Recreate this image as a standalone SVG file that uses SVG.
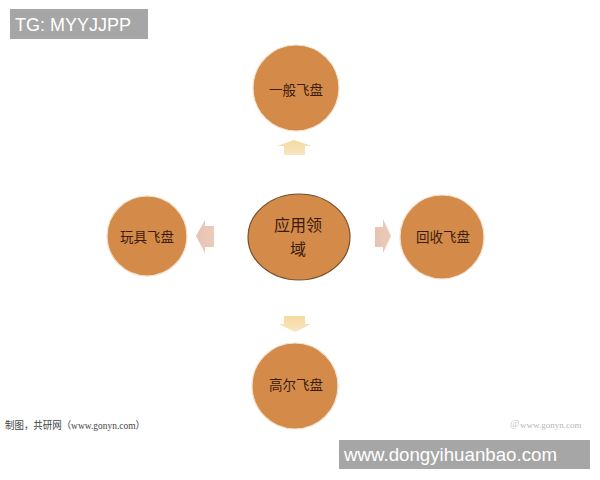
<svg xmlns="http://www.w3.org/2000/svg" width="600" height="480" viewBox="0 0 600 480">
<style>
.node{fill:#d48b4a;stroke:#f3e2d0;stroke-width:1.2}
.center{fill:#d48b4a;stroke:#7a4f2c;stroke-width:1.2}
.lbl{font-family:"Noto Sans CJK SC","Noto Sans",sans-serif;font-size:13.5px;fill:#3b1b0e;text-anchor:middle;dominant-baseline:central}
.clbl{font-family:"Noto Sans CJK SC","Noto Sans",sans-serif;font-size:16px;fill:#3b1b0e;text-anchor:middle;dominant-baseline:central}
.tag{fill:#a6a6a6}
.tagtxt{font-family:"Liberation Sans",Arial,sans-serif;fill:#ffffff}
</style>
<defs>
<linearGradient id="gV" x1="0" y1="0" x2="0" y2="1">
<stop offset="0" stop-color="#f5d99e"/><stop offset="1" stop-color="#f8e6c2"/>
</linearGradient>
<linearGradient id="gH" x1="0" y1="0" x2="1" y2="0">
<stop offset="0" stop-color="#e8c2b0"/><stop offset="1" stop-color="#eccbbb"/>
</linearGradient>
</defs>
<rect width="600" height="480" fill="#ffffff"/>
<g id="tg">
<rect class="tag" x="10" y="9" width="138" height="30"/>
<text class="tagtxt" x="15" y="31" font-size="18">TG: MYYJJPP</text>
</g>
<g id="connectors">
<polygon points="294,140 312,146 305,146 305,155 284,155 284,146 277,146" fill="url(#gV)"/>
<polygon points="284,316 305,316 305,324 311,324 295,332 279,324 284,324" fill="url(#gV)"/>
<polygon points="196,236 205,220 205,226 214,226 214,247 205,247 205,253" fill="url(#gH)"/>
<polygon points="391,236 383,219 383,227 375,227 375,247 383,247 383,253" fill="url(#gH)"/>
</g>
<g id="n-top">
<circle class="node" cx="296" cy="88" r="43"/>
<text class="lbl" x="296" y="89">一般飞盘</text>
</g>
<g id="n-left">
<circle class="node" cx="147" cy="236" r="40"/>
<text class="lbl" x="147" y="236">玩具飞盘</text>
</g>
<g id="n-center">
<ellipse class="center" cx="299" cy="237" rx="51" ry="43"/>
<text class="clbl" x="298" y="224">应用领</text>
<text class="clbl" x="298" y="248">域</text>
</g>
<g id="n-right">
<circle class="node" cx="442" cy="237" r="42"/>
<text class="lbl" x="443" y="236">回收飞盘</text>
</g>
<g id="n-bottom">
<circle class="node" cx="295" cy="386" r="43"/>
<text class="lbl" x="296" y="384">高尔飞盘</text>
</g>
<g id="source">
<text x="5" y="429" font-family="'Liberation Serif','Noto Sans CJK SC',serif" font-size="10" fill="#444" textLength="140" lengthAdjust="spacingAndGlyphs">制图，共研网（www.gonyn.com）</text>
</g>
<g id="watermark">
<text x="510" y="427" font-family="'Liberation Serif',serif" font-size="10" fill="#c8c8c8">@</text>
<text x="520" y="428" font-family="'Liberation Serif',serif" font-size="9" fill="#b8b8b8">www.gonyn.com</text>
</g>
<g id="site">
<rect class="tag" x="339" y="440" width="251" height="29"/>
<text class="tagtxt" x="344" y="461" font-size="18.7">www.dongyihuanbao.com</text>
</g>
</svg>
